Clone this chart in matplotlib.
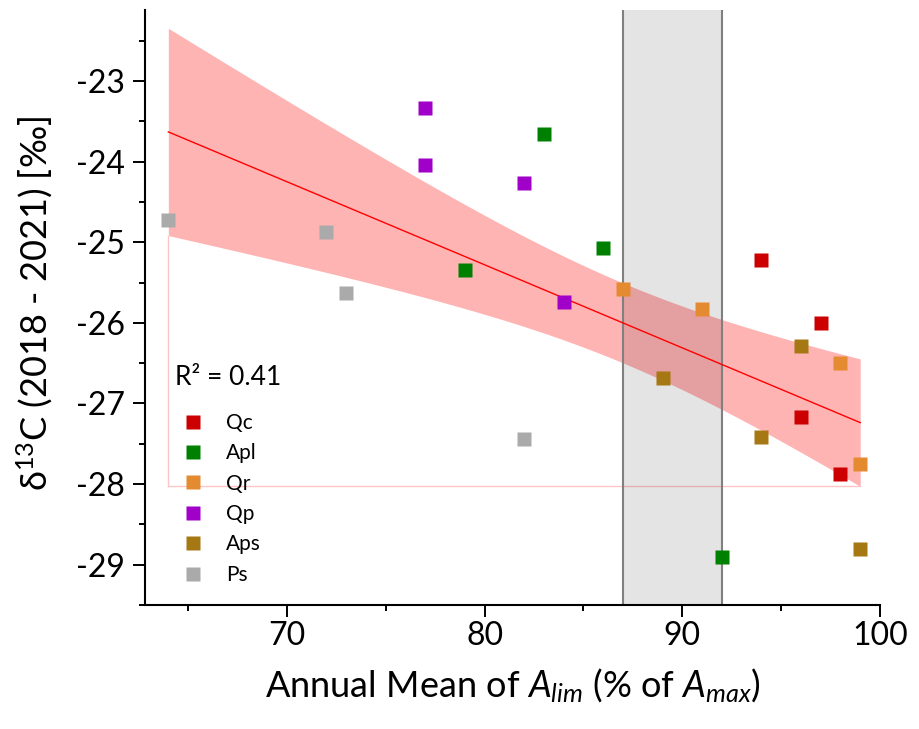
import numpy as np
import matplotlib
matplotlib.use("Agg")
import matplotlib.pyplot as plt
from matplotlib.lines import Line2D

plt.rcParams['font.family'] = ['Lato', 'DejaVu Sans']
plt.rcParams['mathtext.fontset'] = 'custom'
plt.rcParams['mathtext.rm'] = 'Lato'
plt.rcParams['mathtext.it'] = 'Lato:italic'
plt.rcParams['axes.unicode_minus'] = False

# ---- data ----
species = ["Qc", "Apl", "Qr", "Qp", "Aps", "Ps"]
colors = ["#cc0000", "#008000", "#e48a30", "#a000c8", "#a67814", "#aaaaaa"]
x_qc = [94, 97, 96, 98]
y_qc = [-25.22, -26.00, -27.17, -27.88]
x_apl = [79, 83, 86, 92]
y_apl = [-25.34, -23.66, -25.07, -28.90]
x_qr = [87, 91, 98, 99]
y_qr = [-25.58, -25.83, -26.50, -27.75]
x_qp = [77, 77, 82, 84]
y_qp = [-23.34, -24.04, -24.26, -25.74]
x_aps = [89, 96, 94, 99]
y_aps = [-26.69, -26.29, -27.42, -28.80]
x_ps = [64, 72, 73, 82]
y_ps = [-24.72, -24.87, -25.63, -27.44]
r2_text = "R² = 0.41"
band_range = [87, 92]
xticks = [70, 80, 90, 100]
yticks = [-29, -28, -27, -26, -25, -24, -23]

xs = [x_qc, x_apl, x_qr, x_qp, x_aps, x_ps]
ys = [y_qc, y_apl, y_qr, y_qp, y_aps, y_ps]

fig = plt.figure(figsize=(9.19, 7.29), dpi=100)
ax = fig.add_axes([145/919, 1-605/729, 735/919, 595/729])

# linear fit and 95% confidence band
X = np.concatenate([np.array(v, float) for v in xs])
Y = np.concatenate([np.array(v, float) for v in ys])
n = len(X)
b, a = np.polyfit(X, Y, 1)
res = Y - (a + b*X)
s = np.sqrt(np.sum(res**2)/(n-2))
xm = X.mean()
sxx = np.sum((X-xm)**2)
tval = 2.074
xf = np.linspace(X.min(), X.max(), 200)
yf = a + b*xf
se = s*np.sqrt(1/n + (xf-xm)**2/sxx)
lo = yf - tval*se
hi = yf + tval*se

ax.fill_between(xf, lo, hi, color="#ffb4b4", lw=0, zorder=1)
# pink frame lines (left, bottom)
ax.plot([xf[0], xf[0]], [lo[0], lo[-1]], color="#ffc4c4", lw=1, zorder=1.1)
ax.plot([xf[0], xf[-1]], [lo[-1], lo[-1]], color="#ffc4c4", lw=1, zorder=1.1)

ax.axvspan(band_range[0], band_range[1], color="black", alpha=0.105, lw=0, zorder=2)
for bx in band_range:
    ax.axvline(bx, color="#808080", lw=1.5, zorder=2.1)

ax.plot(xf, yf, color="#ff0000", lw=1, zorder=3)

for xv, yv, c in zip(xs, ys, colors):
    ax.plot(xv, yv, ls="none", marker="s", ms=9.4, mfc=c, mec="none", zorder=4)

ax.set_xlim(62.82, 100.0)
ax.set_ylim(-29.42, -22.12)
ax.set_xticks(xticks)
ax.set_yticks(yticks)
ax.set_xticks([65, 75, 85, 95], minor=True)
ax.set_yticks(np.arange(-29.5, -22.0, 1.0), minor=True)
ax.tick_params(axis="both", which="major", length=8.6, width=1.4, labelsize=23, direction="out")
ax.tick_params(axis="x", which="major", pad=3)
ax.tick_params(axis="y", which="major", pad=6)
ax.tick_params(axis="both", which="minor", length=4.3, width=1.4, direction="out")
for sp in ["top", "right"]:
    ax.spines[sp].set_visible(False)
for sp in ["left", "bottom"]:
    ax.spines[sp].set_linewidth(1.5)

ax.set_xlabel(r"Annual Mean of $\mathit{A}_{\mathit{lim}}$ (% of $\mathit{A}_{\mathit{max}}$)", fontsize=26)
ax.xaxis.label.set_va("center")
ax.xaxis.set_label_coords(0.5, -0.136)
ax.set_ylabel(r"δ$^{13}$C (2018 - 2021) [‰]", fontsize=26)
ax.yaxis.label.set_va("center")
ax.yaxis.set_label_coords(-0.15, 0.507)

ax.text(64.33, -26.68, r2_text, fontsize=19, ha="left", va="center", zorder=5)

handles = [Line2D([], [], ls="none", marker="s", ms=9.4, mfc=c, mec="none") for c in colors]
leg = ax.legend(handles, species, loc="upper left", bbox_to_anchor=(0.051, 0.323),
                frameon=False, fontsize=15, handlelength=1.0, handletextpad=1.09,
                labelspacing=0.5, borderpad=0, borderaxespad=0)

fig.savefig("out.png", dpi=100)
